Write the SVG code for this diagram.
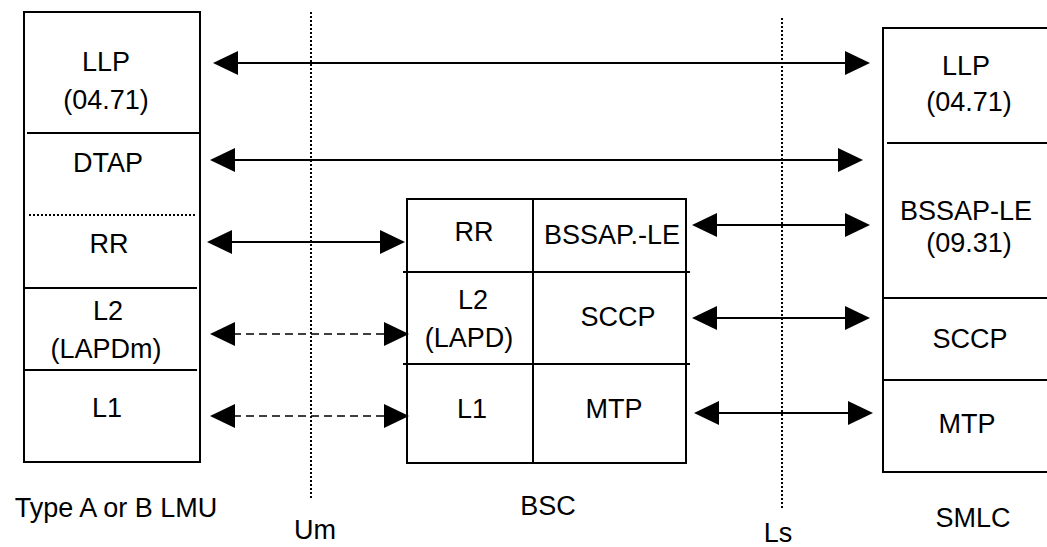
<svg xmlns="http://www.w3.org/2000/svg" width="1047" height="547" viewBox="0 0 1047 547">
<style>
text{font-family:"Liberation Sans",Arial,sans-serif;font-size:27px;fill:#000;text-anchor:middle}
.box{fill:none;stroke:#000;stroke-width:2}
.ln{stroke:#000;stroke-width:2}
.dot{stroke:#000;stroke-width:2;stroke-dasharray:2 2}
.arr{stroke:#000;stroke-width:2}
.darr{stroke:#000;stroke-width:1.5;stroke-dasharray:8 5}
</style>
<defs>
<marker id="ah" viewBox="0 0 25 24" refX="15" refY="12" markerWidth="25" markerHeight="24" markerUnits="userSpaceOnUse" orient="auto-start-reverse">
<path d="M0,0 L25,12 L0,24 z" fill="#000"/>
</marker>
</defs>
<rect width="1047" height="547" fill="#fff"/>
<g id="lmu">
<rect class="box" x="24" y="12" width="176" height="450"/>
<line class="ln" x1="27" y1="133" x2="200" y2="133"/>
<line class="dot" x1="29" y1="215" x2="196" y2="215"/>
<line class="ln" x1="24" y1="288" x2="197" y2="288"/>
<line class="ln" x1="24" y1="370" x2="197" y2="370"/>
<text x="106" y="71">LLP</text>
<text x="106" y="109">(04.71)</text>
<text x="108" y="172">DTAP</text>
<text x="109" y="253">RR</text>
<text x="108" y="320">L2</text>
<text x="106" y="358">(LAPDm)</text>
<text x="107" y="417">L1</text>
<text x="116" y="517">Type A or B LMU</text>
</g>
<g id="bsc">
<rect class="box" x="407" y="199" width="279" height="264"/>
<line class="ln" x1="533" y1="199" x2="533" y2="463"/>
<line class="ln" x1="403" y1="272" x2="690" y2="272"/>
<line class="ln" x1="403" y1="364" x2="690" y2="364"/>
<text x="474" y="241">RR</text>
<text x="612" y="244">BSSAP.-LE</text>
<text x="473" y="309">L2</text>
<text x="469" y="347">(LAPD)</text>
<text x="618" y="326">SCCP</text>
<text x="472" y="418">L1</text>
<text x="614" y="418">MTP</text>
<text x="548" y="515">BSC</text>
</g>
<g id="smlc">
<path class="ln" fill="none" d="M1047,28 H883 V472 H1047"/>
<line class="ln" x1="887" y1="143" x2="1047" y2="143"/>
<line class="ln" x1="883" y1="298" x2="1047" y2="298"/>
<line class="ln" x1="883" y1="380" x2="1047" y2="380"/>
<text x="966" y="75">LLP</text>
<text x="969" y="111">(04.71)</text>
<text x="966" y="220">BSSAP-LE</text>
<text x="969" y="252">(09.31)</text>
<text x="970" y="348">SCCP</text>
<text x="967" y="433">MTP</text>
<text x="973" y="527">SMLC</text>
</g>
<g id="interfaces">
<line class="dot" x1="311" y1="12" x2="311" y2="500"/>
<line class="dot" x1="782" y1="18" x2="782" y2="508"/>
<text x="315" y="539">Um</text>
<text x="778" y="542">Ls</text>
</g>
<g id="connectors">
<line class="arr" x1="223" y1="63" x2="860" y2="63" marker-start="url(#ah)" marker-end="url(#ah)"/>
<line class="arr" x1="220" y1="160" x2="853" y2="160" marker-start="url(#ah)" marker-end="url(#ah)"/>
<line class="arr" x1="217" y1="242" x2="395" y2="242" marker-start="url(#ah)" marker-end="url(#ah)"/>
<line class="darr" x1="220" y1="334" x2="399" y2="334" marker-start="url(#ah)" marker-end="url(#ah)"/>
<line class="darr" x1="220" y1="416" x2="399" y2="416" marker-start="url(#ah)" marker-end="url(#ah)"/>
<line class="arr" x1="702" y1="225" x2="860" y2="225" marker-start="url(#ah)" marker-end="url(#ah)"/>
<line class="arr" x1="702" y1="318" x2="860" y2="318" marker-start="url(#ah)" marker-end="url(#ah)"/>
<line class="arr" x1="704" y1="413" x2="863" y2="413" marker-start="url(#ah)" marker-end="url(#ah)"/>
</g>
</svg>
